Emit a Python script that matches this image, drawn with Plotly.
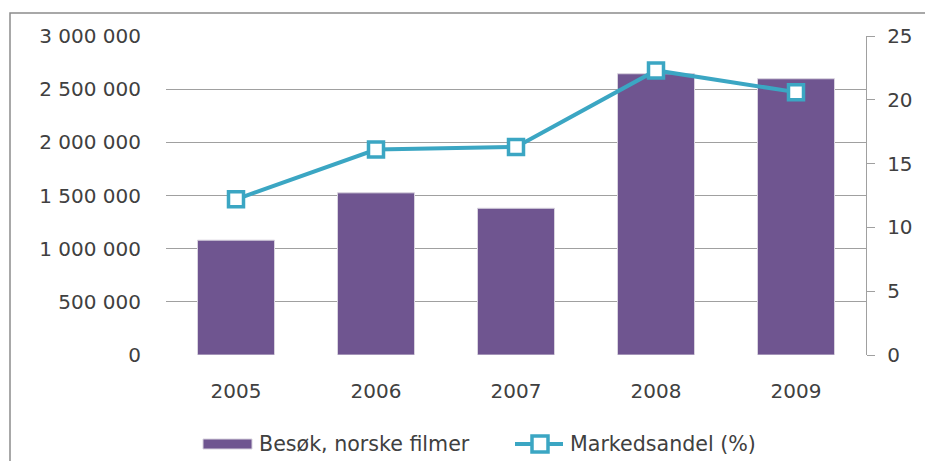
import plotly.graph_objects as go

years = ["2005", "2006", "2007", "2008", "2009"]
besok = [1080000, 1525000, 1380000, 2645000, 2598000]
andel = [12.2, 16.1, 16.3, 22.3, 20.6]
left_ticks = [0, 500000, 1000000, 1500000, 2000000, 2500000, 3000000]
right_ticks = [0, 5, 10, 15, 20, 25]
names = ["Besøk, norske filmer", "Markedsandel (%)"]

purple = "#6F5590"
teal = "#3BA6C3"
txt = "#404040"
fnt = dict(family="DejaVu Sans", size=20, color=txt)
legfnt = dict(family="DejaVu Sans", size=20.6, color=txt)

fig = go.Figure()
fig.add_trace(go.Bar(x=years, y=besok, name=names[0], showlegend=False,
                     marker=dict(color=purple, line=dict(color="#D8D3DE", width=1))))
fig.add_trace(go.Scatter(x=years, y=andel, name=names[1], yaxis="y2", showlegend=False,
                         mode="lines+markers",
                         line=dict(color=teal, width=4),
                         marker=dict(symbol="square", size=15, color="white",
                                     line=dict(color=teal, width=3.5))))

# page has an 8px body margin, so figure px = page px - 8
OFF = 8
FW, FH = 933 - 2 * OFF, 469 - 2 * OFF
W0, W1, T, B = 166 - OFF, 866 - OFF, 36 - OFF, 355 - OFF
def px(x):
    return (x - OFF - W0) / (W1 - W0)
def py(y):
    return (B - (y - OFF)) / (B - T)

LY = 444  # legend row, page pixels
shapes = [
    dict(type="rect", xref="paper", yref="paper",
         x0=px(10), x1=px(931), y0=py(490), y1=py(13),
         line=dict(color="#8C8C8C", width=1.5), layer="below"),
    dict(type="rect", xref="paper", yref="paper",
         x0=px(203), x1=px(252), y0=py(LY + 5), y1=py(LY - 5),
         fillcolor=purple, line=dict(color="#D8D3DE", width=1)),
    dict(type="line", xref="paper", yref="paper",
         x0=px(515), x1=px(563), y0=py(LY), y1=py(LY),
         line=dict(color=teal, width=4)),
    dict(type="rect", xref="paper", yref="paper",
         x0=px(532), x1=px(548), y0=py(LY + 8), y1=py(LY - 8),
         fillcolor="white", line=dict(color=teal, width=3.5)),
]
annotations = [
    dict(xref="paper", yref="paper", x=px(257), y=py(LY), text=names[0],
         showarrow=False, xanchor="left", yanchor="middle", font=legfnt),
    dict(xref="paper", yref="paper", x=px(568), y=py(LY), text=names[1],
         showarrow=False, xanchor="left", yanchor="middle", font=legfnt),
]

fig.update_layout(
    width=FW, height=FH,
    margin=dict(l=W0, r=FW - W1, t=T, b=FH - B),
    paper_bgcolor="white", plot_bgcolor="white",
    font=fnt,
    separators=", ",
    bargap=0.45,
    xaxis=dict(showgrid=False, showline=False, ticks="", ticklabelstandoff=22,
               tickfont=fnt),
    yaxis=dict(range=[0, 3000000], tickvals=left_ticks, tickformat=",d",
               showgrid=True, gridcolor="#A0A0A0", gridwidth=1.3,
               zeroline=False, showline=False, ticks="", ticklabelstandoff=24,
               tickfont=fnt),
    yaxis2=dict(range=[0, 25], tickvals=right_ticks, overlaying="y", side="right",
                showgrid=False, zeroline=False, showline=True, linecolor="#A0A0A0",
                linewidth=1.3, ticks="outside", ticklen=8, tickcolor="#A0A0A0",
                tickwidth=1.3, ticklabelstandoff=8, tickfont=fnt),
    shapes=shapes,
    annotations=annotations,
)

fig.write_html("out.html")
